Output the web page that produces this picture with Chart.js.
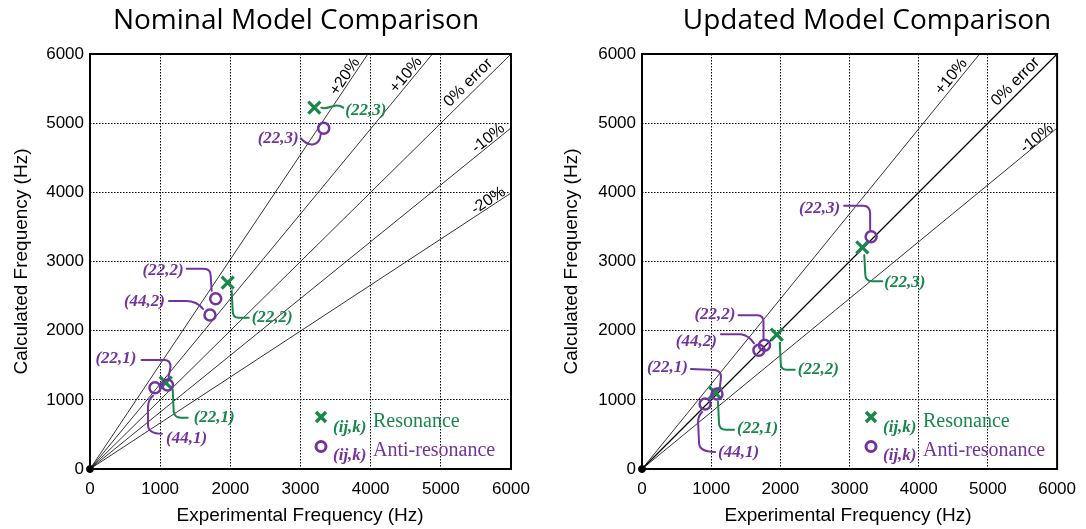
<!DOCTYPE html>
<html>
<head>
<meta charset="utf-8">
<script src="https://cdn.jsdelivr.net/npm/chart.js@4.4.1/dist/chart.umd.min.js"></script>
<style>
html,body{margin:0;padding:0;background:#fff;width:1086px;height:529px;overflow:hidden;}
.box{position:absolute;top:0;height:529px;}
</style>
</head>
<body>
<div class="box" style="left:0;width:545px;"><canvas id="c1"></canvas></div>
<div class="box" style="left:545px;width:541px;"><canvas id="c2"></canvas></div>
<script>
// ---- data ----
const axisTicks = [0, 1000, 2000, 3000, 4000, 5000, 6000];
const resLabels = ['(22,1)', '(22,2)', '(22,3)'];
const antiLabels = ['(44,1)', '(22,1)', '(44,2)', '(22,2)', '(22,3)'];

const nomResExp  = [1079, 1962, 3197];
const nomResCalc = [1248, 2694, 5224];
const nomAntiExp  = [926, 1105, 1710, 1791, 3331];
const nomAntiCalc = [1176, 1214, 2227, 2462, 4926];

const updResExp  = [1055, 1948, 3184];
const updResCalc = [1103, 1942, 3205];
const updAntiExp  = [912, 1084, 1690, 1771, 3312];
const updAntiCalc = [940, 1084, 1716, 1788, 3359];

const nomErrLabels  = ['+20%', '+10%', '0% error', '-10%', '-20%'];
const nomErrEndExp  = [3960, 4880, 6000, 6000, 6000];
const nomErrEndCalc = [6000, 6000, 6000, 4930, 3990];

const updErrLabels  = ['+10%', '0% error', '-10%'];
const updErrEndExp  = [4880, 6000, 6000];
const updErrEndCalc = [6000, 6000, 4930];

// ---- styling / placement ----
const GREEN = '#17874a';
const PURPLE = '#7233a1';
const SANS = '"Liberation Sans", Arial, sans-serif';
const SERIF = '"Liberation Serif", "Times New Roman", serif';

const nomErrLabelPos = [[3634, 5672], [4504, 5696], [5391, 5585], [5677, 4781], [5677, 3879]];
const updErrLabelPos = [[4472, 5672], [5399, 5600], [5709, 4781]];

// annotation geometry: pixel offsets from the marker
const nomNotes = [
  {set: 0, i: 0, al: 'left',  t: [28, 35],   p: [['M',7,7],['L',8,29],['Q',9,35,15,35],['L',22,35]]},
  {set: 0, i: 1, al: 'left',  t: [24, 35],   p: [['M',4,8],['L',5,28],['Q',5,35,11,35],['L',21,35]]},
  {set: 0, i: 2, al: 'left',  t: [31, 3],    p: [['M',7,0],['C',14,3,20,-6,29,0]]},
  {set: 1, i: 0, al: 'left',  t: [11, 51],   p: [['M',-2,8],['Q',-7,12,-7,20],['L',-7,37],['Q',-7,46,7,46]]},
  {set: 1, i: 1, al: 'right', t: [-31, -26], p: [['M',-26,-25],['L',-3,-25],['Q',3,-25,3,-18],['L',1,-8]]},
  {set: 1, i: 2, al: 'right', t: [-45, -13], p: [['M',-41,-14],['L',-24,-14],['Q',-13,-14,-7,-6]]},
  {set: 1, i: 3, al: 'right', t: [-32, -28], p: [['M',-29,-30],['L',-12,-30],['Q',-5,-30,-5,-23],['L',-4,-8]]},
  {set: 1, i: 4, al: 'right', t: [-25, 10],  p: [['M',-23,10],['C',-14,20,-4,17,-3,6]]}
];
const updNotes = [
  {set: 0, i: 0, al: 'left',  t: [22, 36],   p: [['M',3,9],['L',4,30],['Q',4,37,11,37],['L',19,37]]},
  {set: 0, i: 1, al: 'left',  t: [21, 35],   p: [['M',3,8],['L',4,29],['Q',4,35,10,35],['L',18,35]]},
  {set: 0, i: 2, al: 'left',  t: [22, 35],   p: [['M',2,8],['L',3,27],['Q',3,34,10,34],['L',20,34]]},
  {set: 1, i: 0, al: 'left',  t: [13, 49],   p: [['M',-3,8],['Q',-7,12,-7,18],['L',-6,40],['Q',-5,48,10,48]]},
  {set: 1, i: 1, al: 'right', t: [-29, -26], p: [['M',-26,-25],['L',-2,-24],['Q',4,-23,4,-17],['L',3,-8]]},
  {set: 1, i: 2, al: 'right', t: [-42, -9],  p: [['M',-38,-16],['L',-18,-16],['Q',-10,-15,-5,-7]]},
  {set: 1, i: 3, al: 'right', t: [-29, -31], p: [['M',-26,-30],['L',-7,-30],['Q',-1,-30,-1,-23],['L',-1,-7]]},
  {set: 1, i: 4, al: 'right', t: [-31, -28], p: [['M',-27,-31],['L',-8,-31],['Q',-1,-31,-1,-23],['L',-1,-7]]}
];

function pts(xs, ys) { return xs.map((x, k) => ({x: x, y: ys[k]})); }

function buildChart(id, cfg) {
  const datasets = [
    {type: 'scatter', label: 'Resonance', data: pts(cfg.resX, cfg.resY), pointStyle: 'crossRot',
     pointRadius: 8.5, pointBorderWidth: 3.2, borderColor: GREEN, backgroundColor: GREEN, order: 1, clip: false},
    {type: 'scatter', label: 'Anti-resonance', data: pts(cfg.antiX, cfg.antiY), pointStyle: 'circle',
     pointRadius: 5.5, pointBorderWidth: 2.5, borderColor: PURPLE, backgroundColor: 'rgba(0,0,0,0)', order: 0, clip: false},
    {type: 'scatter', label: 'origin', data: [{x: 0, y: 0}], pointStyle: 'circle', pointRadius: 3.5,
     borderColor: '#000', backgroundColor: '#000', order: 2, clip: false}
  ];
  cfg.errX.forEach((ex, k) => {
    datasets.push({type: 'line', label: cfg.errL[k], data: [{x: 0, y: 0}, {x: ex, y: cfg.errY[k]}],
      borderColor: '#000', borderWidth: (cfg.errL[k] === '0% error' && cfg.boldZero) ? 1.2 : 0.8,
      pointRadius: 0, fill: false, order: 5, clip: false});
  });

  const overlay = {
    id: 'overlay',
    afterDraw(chart) {
      const ctx = chart.ctx, a = chart.chartArea, sx = chart.scales.x, sy = chart.scales.y;
      ctx.save();
      // frame
      ctx.strokeStyle = '#000'; ctx.lineWidth = 2;
      ctx.strokeRect(a.left, a.top, a.right - a.left, a.bottom - a.top);
      // error line labels
      ctx.fillStyle = '#000';
      ctx.font = '16px ' + SANS;
      ctx.textAlign = 'center'; ctx.textBaseline = 'middle';
      cfg.errL.forEach((lab, k) => {
        const x0 = sx.getPixelForValue(0), y0 = sy.getPixelForValue(0);
        const x1 = sx.getPixelForValue(cfg.errX[k]), y1 = sy.getPixelForValue(cfg.errY[k]);
        const ang = Math.atan2(y1 - y0, x1 - x0);
        const px = sx.getPixelForValue(cfg.errPos[k][0]), py = sy.getPixelForValue(cfg.errPos[k][1]);
        ctx.save(); ctx.translate(px, py); ctx.rotate(ang); ctx.fillText(lab, 0, 0); ctx.restore();
      });
      // point annotations
      const sets = [[cfg.resX, cfg.resY, resLabels, GREEN], [cfg.antiX, cfg.antiY, antiLabels, PURPLE]];
      ctx.lineWidth = 2; ctx.lineJoin = 'round'; ctx.lineCap = 'round';
      cfg.notes.forEach(n => {
        const s = sets[n.set];
        const px = sx.getPixelForValue(s[0][n.i]), py = sy.getPixelForValue(s[1][n.i]);
        ctx.strokeStyle = s[3]; ctx.fillStyle = s[3];
        ctx.beginPath();
        n.p.forEach(c => {
          if (c[0] === 'M') ctx.moveTo(px + c[1], py + c[2]);
          else if (c[0] === 'L') ctx.lineTo(px + c[1], py + c[2]);
          else if (c[0] === 'Q') ctx.quadraticCurveTo(px + c[1], py + c[2], px + c[3], py + c[4]);
          else if (c[0] === 'C') ctx.bezierCurveTo(px + c[1], py + c[2], px + c[3], py + c[4], px + c[5], py + c[6]);
        });
        ctx.stroke();
        ctx.font = 'italic bold 17px ' + SERIF;
        ctx.textAlign = n.al; ctx.textBaseline = 'middle';
        ctx.fillText(s[2][n.i], px + n.t[0], py + n.t[1]);
      });
      // legend
      const lx = a.left + cfg.legDx;
      ctx.strokeStyle = GREEN; ctx.lineWidth = 3.5; ctx.lineCap = 'butt';
      ctx.beginPath();
      ctx.moveTo(lx - 5, 412); ctx.lineTo(lx + 5, 422);
      ctx.moveTo(lx + 5, 412); ctx.lineTo(lx - 5, 422);
      ctx.stroke();
      ctx.strokeStyle = PURPLE; ctx.lineWidth = 3;
      ctx.beginPath(); ctx.arc(lx, 446.5, 5, 0, Math.PI * 2); ctx.stroke();
      ctx.textAlign = 'left'; ctx.textBaseline = 'alphabetic';
      ctx.fillStyle = GREEN;
      ctx.font = 'italic bold 17px ' + SERIF; ctx.fillText('(ij,k)', lx + 12, 432);
      ctx.font = '20px ' + SERIF; ctx.fillText('Resonance', lx + 52, 427);
      ctx.fillStyle = PURPLE;
      ctx.font = 'italic bold 17px ' + SERIF; ctx.fillText('(ij,k)', lx + 12, 460);
      ctx.font = '20px ' + SERIF; ctx.fillText('Anti-resonance', lx + 52, 456);
      // titles
      ctx.fillStyle = '#000';
      ctx.textAlign = 'center';
      ctx.font = '28px "Open Sans", ' + SANS;
      ctx.fillText(cfg.title, cfg.titleX, 29);
      ctx.font = '19px ' + SANS;
      ctx.fillText('Experimental Frequency (Hz)', cfg.xTitleX, 521);
      ctx.save(); ctx.translate(cfg.yTitleX, (a.top + a.bottom) / 2); ctx.rotate(-Math.PI / 2);
      ctx.textBaseline = 'middle';
      ctx.fillText('Calculated Frequency (Hz)', 0, 0); ctx.restore();
      ctx.restore();
    }
  };

  const axis = (isX) => ({
    type: 'linear', min: 0, max: 6000,
    afterBuildTicks: s => { s.ticks = axisTicks.map(v => ({value: v})); },
    afterFit: s => { if (isX) s.height = 60; else s.width = cfg.yWidth; },
    grid: {color: '#000', lineWidth: 1, drawTicks: false},
    border: {display: false, dash: [1.5, 1.5]},
    ticks: {color: '#000', font: {family: SANS, size: 17}, padding: isX ? 10 : 6,
            callback: v => String(v)}
  });

  return new Chart(document.getElementById(id), {
    data: {datasets: datasets},
    options: {
      responsive: true, maintainAspectRatio: false, animation: false,
      layout: {padding: {top: 54, right: cfg.padRight, left: 0, bottom: 0}},
      plugins: {legend: {display: false}, tooltip: {enabled: false}, title: {display: false}},
      scales: {x: axis(true), y: axis(false)}
    },
    plugins: [overlay]
  });
}

buildChart('c1', {
  resX: nomResExp, resY: nomResCalc, antiX: nomAntiExp, antiY: nomAntiCalc,
  errX: nomErrEndExp, errY: nomErrEndCalc, errL: nomErrLabels, errPos: nomErrLabelPos,
  notes: nomNotes, boldZero: false, yWidth: 90, padRight: 34, legDx: 231,
  title: 'Nominal Model Comparison', titleX: 296, xTitleX: 300, yTitleX: 22
});
buildChart('c2', {
  resX: updResExp, resY: updResCalc, antiX: updAntiExp, antiY: updAntiCalc,
  errX: updErrEndExp, errY: updErrEndCalc, errL: updErrLabels, errPos: updErrLabelPos,
  notes: updNotes, boldZero: true, yWidth: 97, padRight: 25, legDx: 229,
  title: 'Updated Model Comparison', titleX: 322, xTitleX: 303, yTitleX: 27
});
</script>
</body>
</html>
